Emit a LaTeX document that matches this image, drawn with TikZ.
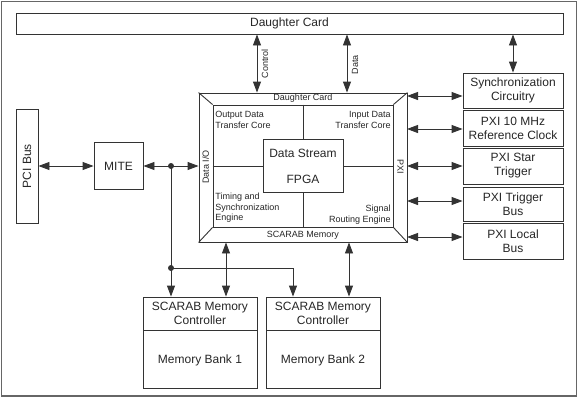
\documentclass[tikz,border=0pt]{standalone}
\usepackage{fontspec}
\setmainfont{Liberation Sans}
\usetikzlibrary{arrows.meta,calc}

\tikzset{
	box/.style={draw, inner sep=0pt, align=center, font=\fontsize{12}{14}\selectfont},
	lbl/.style={inner sep=0pt, font=\fontsize{9}{10.5}\selectfont},
	dbl/.style={{Triangle[length=11pt,width=8pt]}-{Triangle[length=11pt,width=8pt]}},
	one/.style={-{Triangle[length=11pt,width=8pt]}},
}

\begin{document}
\begin{tikzpicture}[x=1pt,y=-1pt,line width=0.9pt,color=black!80,text=black!85]

	\useasboundingbox (0,0) rectangle (579,400);
	\draw[line width=1.5pt, black!60] (1.5,1.5) rectangle (576.5,396);

	% boxes
	\node[box, minimum width=547pt, minimum height=21pt] (dc) at (289.5,23.5) {Daughter Card};
	\node[box, minimum width=22pt, minimum height=114pt] (pci) at (27,166) {\rotatebox{90}{PCI Bus}};
	\node[box, minimum width=49pt, minimum height=47pt] (mite) at (118.5,166) {MITE};

	\node[box, minimum width=100pt, minimum height=35pt] (sync) at (513,90.5) {Synchronization\\Circuitry};
	\node[box, minimum width=100pt, minimum height=36pt] (clk) at (513,128) {PXI 10 MHz\\Reference Clock};
	\node[box, minimum width=100pt, minimum height=36pt] (star) at (513,166) {PXI Star\\Trigger};
	\node[box, minimum width=100pt, minimum height=34pt] (trig) at (513,204) {PXI Trigger\\Bus};
	\node[box, minimum width=100pt, minimum height=36pt] (loc) at (513,241) {PXI Local\\Bus};

	\node[box, minimum width=114pt, minimum height=33pt] (ctl1) at (200,313.5) {SCARAB Memory\\Controller};
	\node[box, minimum width=114pt, minimum height=58pt, anchor=north] (bank1) at (ctl1.south) {Memory Bank 1};
	\node[box, minimum width=114pt, minimum height=33pt] (ctl2) at (323,313.5) {SCARAB Memory\\Controller};
	\node[box, minimum width=114pt, minimum height=58pt, anchor=north] (bank2) at (ctl2.south) {Memory Bank 2};

	% fpga
	\node[draw, inner sep=0pt, minimum width=208pt, minimum height=149pt] (fpga) at (303,167.5) {};
	\node[draw, inner sep=0pt, minimum width=180pt, minimum height=122pt] (core) at (303,166) {};
	\node[box, minimum width=80pt, minimum height=53pt, font=\fontsize{12}{26}\selectfont] (dsp) at (303,166) {Data Stream\\FPGA};
	\foreach \c in {north west, north east, south west, south east}
		\draw (fpga.\c) -- (core.\c);
	\draw (core.north) -- (dsp.north);
	\draw (dsp.south) -- (core.south);
	\draw (core.west) -- (dsp.west);
	\draw (dsp.east) -- (core.east);

	\node[lbl] (tband) at ($(fpga.north)!0.5!(core.north)$) {Daughter Card};
	\node[lbl] (bband) at ($(fpga.south)!0.5!(core.south)$) {SCARAB Memory};
	\node[lbl, rotate=90] (lband) at ($(fpga.west)!0.5!(core.west)$) {Data I/O};
	\node[lbl, rotate=-90] (rband) at ($(fpga.east)!0.5!(core.east)$) {PXI};

	\node[lbl, anchor=west, align=left] (q1) at (215,120) {Output Data\\Transfer Core};
	\node[lbl, anchor=east, align=right] (q2) at (391,120) {Input Data\\Transfer Core};
	\node[lbl, anchor=west, align=left] (q3) at (215,208) {Timing and\\Synchronization\\Engine};
	\node[lbl, anchor=east, align=right] (q4) at (391,214.5) {Signal\\Routing Engine};

	% top links
	\coordinate (c1) at (257,0);
	\coordinate (c2) at (347,0);
	\draw[dbl] (c1 |- dc.south) -- (c1 |- fpga.north);
	\draw[dbl] (c2 |- dc.south) -- (c2 |- fpga.north);
	\node[lbl, rotate=90] (ctrl) at (265,63.5) {Control};
	\node[lbl, rotate=90] (data) at (355,64.5) {Data};
	\draw[dbl] (sync.north |- dc.south) -- (sync.north);

	% pxi links
	\coordinate (r1) at (407,96);
	\coordinate (r2) at (407,129);
	\coordinate (r3) at (407,166);
	\coordinate (r4) at (407,201);
	\coordinate (r5) at (407,237);
	\draw[dbl] (r1) -- (r1 -| sync.west);
	\draw[dbl] (r2) -- (r2 -| clk.west);
	\draw[dbl] (r3) -- (r3 -| star.west);
	\draw[dbl] (r4) -- (r4 -| trig.west);
	\draw[dbl] (r5) -- (r5 -| loc.west);

	% left links
	\draw[dbl] (pci.east) -- (mite.west);
	\draw[dbl] (mite.east) -- (mite.east -| fpga.west);
	\coordinate (j1) at (171,166);
	\coordinate (j2) at (171,268);
	\coordinate (j3) at (293,268);
	\draw (j1) -- (j2);
	\draw[one] (j2) -- (j2 |- ctl1.north);
	\draw[one] (j2) -- (j3) -- (j3 |- ctl2.north);
	\fill (j1) circle (3pt);
	\fill (j2) circle (3pt);

	% memory links
	\coordinate (m1) at (226,0);
	\coordinate (m2) at (349,0);
	\draw[dbl] (m1 |- fpga.south) -- (m1 |- ctl1.north);
	\draw[dbl] (m2 |- fpga.south) -- (m2 |- ctl2.north);

\end{tikzpicture}
\end{document}
